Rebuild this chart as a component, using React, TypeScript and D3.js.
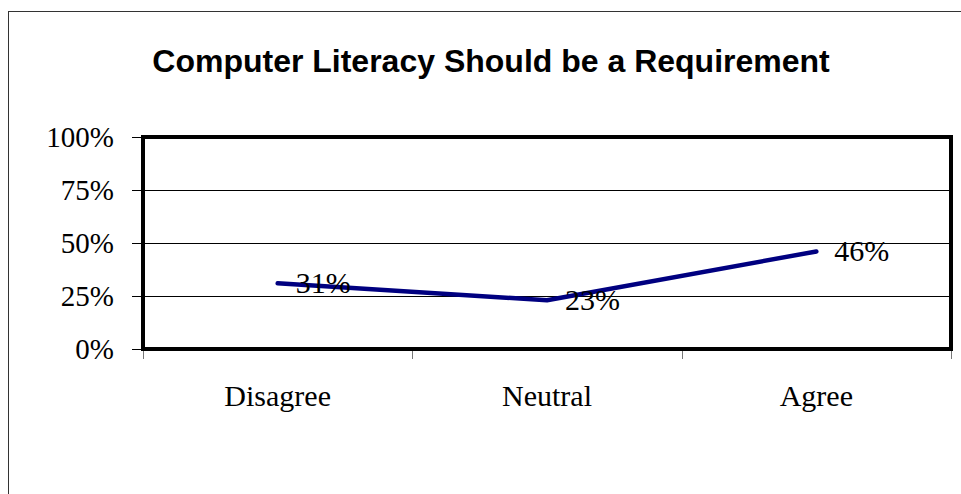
import * as d3 from "d3";

const categories = ["Disagree", "Neutral", "Agree"];
const values = [0.31, 0.23, 0.46];
const yTicks = [0, 0.25, 0.5, 0.75, 1];
const title = "Computer Literacy Should be a Requirement";

const W = 961;
const H = 494;
const plot = { left: 143, right: 951, top: 137, bottom: 349 };
const serif = "'Liberation Serif', 'Times New Roman', serif";

export default function App() {
  const x = d3
    .scaleBand<string>()
    .domain(categories)
    .range([plot.left, plot.right]);
  const y = d3.scaleLinear().domain([0, 1]).range([plot.bottom, plot.top]);
  const fmt = d3.format(".0%");

  const line = d3
    .line<number>()
    .x((_, i) => x(categories[i])! + x.bandwidth() / 2)
    .y((d) => y(d));

  const boundaries = [...categories.map((c) => x(c)!), plot.right];

  return (
    <svg
      width={W}
      height={H}
      style={{ position: "absolute", left: 0, top: 0, background: "#fff" }}
    >
      <rect x={8.5} y={11.5} width={1000} height={1000} fill="none" stroke="#333" strokeWidth={1} />
      <text
        x={491}
        y={72}
        textAnchor="middle"
        fontFamily="'Liberation Sans', Arial, sans-serif"
        fontWeight="bold"
        fontSize={32}
      >
        {title}
      </text>

      {yTicks.slice(1, -1).map((t) => (
        <line
          key={t}
          x1={plot.left}
          x2={plot.right}
          y1={Math.round(y(t)) + 0.5}
          y2={Math.round(y(t)) + 0.5}
          stroke="#000"
          strokeWidth={1}
        />
      ))}

      {yTicks.map((t) => (
        <g key={"yt" + t}>
          <line
            x1={132}
            x2={plot.left}
            y1={Math.round(y(t)) + 0.5}
            y2={Math.round(y(t)) + 0.5}
            stroke="#000"
          />
          <text
            x={114}
            y={y(t) + 10}
            textAnchor="end"
            fontFamily={serif}
            fontSize={29}
          >
            {fmt(t)}
          </text>
        </g>
      ))}

      {boundaries.map((b, i) => (
        <line
          key={"xt" + i}
          x1={Math.round(b) + 0.5}
          x2={Math.round(b) + 0.5}
          y1={plot.bottom}
          y2={plot.bottom + 10}
          stroke="#777"
        />
      ))}

      <rect
        x={plot.left}
        y={plot.top}
        width={plot.right - plot.left}
        height={plot.bottom - plot.top}
        fill="none"
        stroke="#000"
        strokeWidth={4}
      />

      {categories.map((c) => (
        <text
          key={c}
          x={x(c)! + x.bandwidth() / 2}
          y={406}
          textAnchor="middle"
          fontFamily={serif}
          fontSize={30}
        >
          {c}
        </text>
      ))}

      <path
        d={line(values) ?? ""}
        fill="none"
        stroke="#000080"
        strokeWidth={4.5}
        strokeLinecap="round"
        strokeLinejoin="round"
      />

      {values.map((v, i) => (
        <text
          key={"lbl" + i}
          x={x(categories[i])! + x.bandwidth() / 2 + 18}
          y={y(v) + 10}
          fontFamily={serif}
          fontSize={30}
        >
          {fmt(v)}
        </text>
      ))}
    </svg>
  );
}
